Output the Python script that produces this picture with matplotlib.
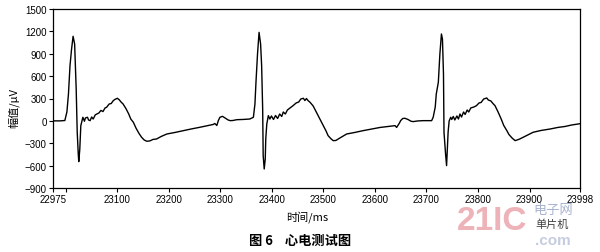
import numpy as np
import matplotlib
matplotlib.use("Agg")
import matplotlib.pyplot as plt

plt.rcParams['font.family'] = ['Liberation Sans', 'Noto Sans CJK SC', 'DejaVu Sans']

# ECG trace: time (ms) and amplitude (uV)
t_ms = [22976, 22989, 22998, 23002, 23005, 23008, 23011, 23014, 23017, 23020,
        23022, 23024, 23025, 23027, 23029, 23033, 23036, 23038, 23042, 23044,
        23047, 23050, 23053, 23057, 23060, 23064, 23068, 23072, 23076, 23079,
        23084, 23088, 23092, 23095, 23100, 23104, 23107, 23111, 23117, 23122,
        23126, 23131, 23136, 23142, 23147, 23152, 23157, 23163, 23169, 23176,
        23185, 23196, 23212, 23228, 23243, 23260, 23276, 23286, 23289, 23293,
        23296, 23299, 23304, 23309, 23315, 23319, 23324, 23332, 23344, 23357,
        # beat 2
        23364, 23367, 23369, 23372, 23375, 23378, 23380, 23382, 23383, 23385,
        23387, 23388, 23390, 23393, 23396, 23399, 23403, 23407, 23411, 23415,
        23419, 23422, 23426, 23430, 23435, 23441, 23447, 23452, 23456, 23461,
        23464, 23467, 23470, 23474, 23480, 23485, 23493, 23499, 23505, 23509,
        23515, 23519, 23524, 23532, 23545, 23561, 23577, 23594, 23610, 23625,
        23639, 23642, 23647, 23650, 23654, 23658, 23664, 23670, 23674, 23683,
        23693, 23707,
        # beat 3
        23710, 23713, 23717, 23719, 23723, 23726, 23729, 23731, 23733, 23734,
        23737, 23739, 23740, 23742, 23744, 23747, 23749, 23752, 23755, 23759,
        23762, 23765, 23768, 23772, 23775, 23779, 23782, 23786, 23792, 23797,
        23802, 23806, 23811, 23817, 23820, 23825, 23829, 23833, 23839, 23845,
        23850, 23856, 23860, 23866, 23872, 23876, 23881, 23885, 23893, 23907,
        23922, 23940, 23955, 23969, 23982, 23995, 23998]

amp_uv = [0, 0, 5, 120, 360, 740, 960, 1134, 1030, 430,
          -150, -440, -547, -380, -64, 48, -5, 40, 48, 12,
          3, 52, 25, 80, 92, 105, 140, 125, 173, 182,
          226, 233, 271, 287, 303, 280, 253, 227, 160, 92,
          25, -19, -95, -169, -220, -256, -273, -269, -249, -243,
          -209, -176, -155, -131, -109, -86, -62, -48, -35, -62,
          5, 48, 61, 39, 12, 3, 5, 16, 19, 25,
          # beat 2
          48, 226, 517, 896, 1187, 1030, 740, 160, -466, -645,
          -510, -243, -42, 70, 25, 66, 19, 72, 32, 92,
          59, 119, 92, 146, 173, 204, 240, 253, 293, 303,
          273, 300, 273, 249, 200, 133, 25, -55, -135, -198,
          -243, -265, -263, -229, -176, -155, -131, -109, -88, -75,
          -64, -88, -35, 5, 32, 35, 19, -5, -10, -1,
          3, 3,
          # beat 3
          3, 48, 186, 360, 517, 896, 1165, 1097, 628, -153,
          -440, -600, -440, -149, -1, 48, 19, 59, 12, 66,
          25, 92, 52, 119, 86, 146, 119, 173, 186, 204,
          240, 247, 293, 307, 280, 267, 233, 204, 119, 25,
          -62, -131, -182, -229, -265, -256, -243, -229, -202, -153,
          -129, -109, -88, -75, -55, -42, -38]

x_ticks = [22975, 23000, 23100, 23200, 23300, 23400, 23500, 23600, 23700, 23800, 23900, 23998]
x_tick_labels = ['22975', '', '23100', '23200', '23300', '23400', '23500', '23600',
                 '23700', '23800', '23900', '23998']
y_ticks = [-900, -600, -300, 0, 300, 600, 900, 1200, 1500]

cjk = ['Noto Sans CJK SC', 'DejaVu Sans']

fig = plt.figure(figsize=(6.0, 2.53), dpi=100)
ax = fig.add_axes([53 / 600, 64 / 253, 527 / 600, 179 / 253])

ax.plot(t_ms, amp_uv, color='black', lw=1.0)

ax.set_xlim(22975, 23998)
ax.set_ylim(-900, 1500)
ax.set_xticks(x_ticks)
ax.set_xticklabels(x_tick_labels)
ax.set_yticks(y_ticks)
ax.tick_params(labelsize=7, length=3, width=0.8, pad=1.5, direction='out')
for s in ax.spines.values():
    s.set_linewidth(0.9)

fig.text(13 / 600, 1 - 108 / 253, '幅值/μV', rotation=90, ha='center', va='center',
         fontsize=8, family=cjk)
fig.text(307 / 600, 1 - 217 / 253, '时间/ms', ha='center', va='center',
         fontsize=8, family=cjk)
fig.text(300 / 600, 1 - 241 / 253, '图 6    心电测试图', ha='center', va='center',
         fontsize=9.5, fontweight='bold', family=cjk)

# watermark
fig.text(492 / 600, 1 - 222 / 253, '21IC', ha='center', va='center', fontsize=24,
         fontweight='bold', color='#eaa6ad', alpha=0.85)
fig.text(553 / 600, 1 - 210 / 253, '电子网', ha='center', va='center', fontsize=9.5,
         color='#a9b3cf', family=cjk)
fig.text(552 / 600, 1 - 225 / 253, '单片机', ha='center', va='center', fontsize=8,
         color='#444444', family=cjk)
fig.text(553 / 600, 1 - 241 / 253, '.com', ha='center', va='center', fontsize=11,
         fontweight='bold', color='#b8c0d8', alpha=0.8)

fig.savefig('out.png', dpi=100)
